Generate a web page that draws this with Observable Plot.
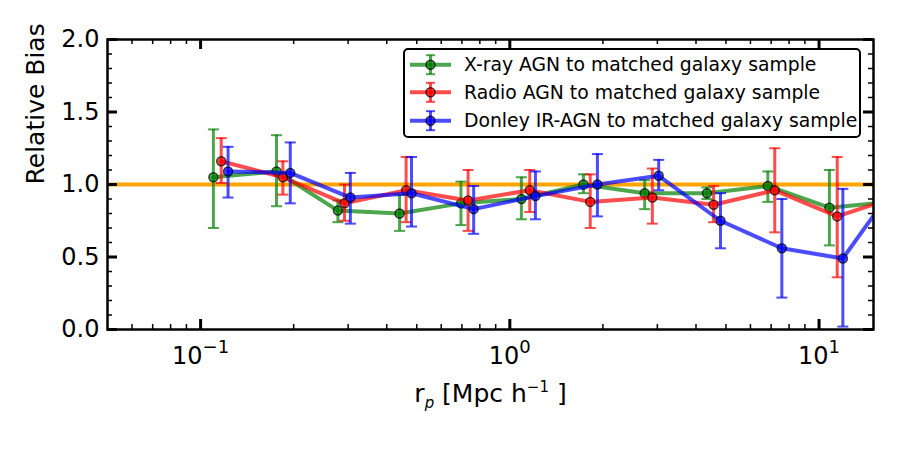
<!DOCTYPE html>
<html><head><meta charset="utf-8">
<script src="https://cdn.jsdelivr.net/npm/d3@7"></script>
<script src="https://cdn.jsdelivr.net/npm/@observablehq/plot@0.6"></script>
<style>
body{margin:0;background:#fff;}
#wrap{position:relative;width:900px;height:450px;font-family:"DejaVu Sans",sans-serif;}
#legend{position:absolute;left:403px;top:48px;}
</style></head><body><div id="wrap"></div>
<script>
// ---- data ----
const seriesNames = ["X-ray AGN to matched galaxy sample", "Radio AGN to matched galaxy sample", "Donley IR-AGN to matched galaxy sample"];
const seriesColors = ["green", "red", "blue"];

const xrayRp   = [0.110, 0.176, 0.278, 0.440, 0.695, 1.09, 1.73, 2.73, 4.34, 6.83, 10.8, 17.1];
const xrayBias = [1.05, 1.09, 0.82, 0.80, 0.87, 0.90, 1.00, 0.94, 0.94, 0.99, 0.84, 0.88];
const xrayLo   = [0.70, 0.85, 0.74, 0.68, 0.72, 0.76, 0.94, 0.83, 0.90, 0.88, 0.58, 0.70];
const xrayHi   = [1.38, 1.34, 0.89, 0.93, 1.02, 1.05, 1.07, 1.03, 0.98, 1.09, 1.10, 1.05];

const radioRp   = [0.1166, 0.1845, 0.292, 0.462, 0.733, 1.16, 1.82, 2.89, 4.56, 7.19, 11.45, 18.1];
const radioBias = [1.16, 1.05, 0.87, 0.96, 0.89, 0.96, 0.88, 0.91, 0.86, 0.96, 0.78, 0.92];
const radioLo   = [1.01, 0.93, 0.75, 0.74, 0.68, 0.81, 0.70, 0.73, 0.74, 0.67, 0.36, 0.70];
const radioHi   = [1.32, 1.16, 1.00, 1.19, 1.10, 1.10, 1.07, 1.11, 0.99, 1.25, 1.19, 1.10];

const donleyRp   = [0.1227, 0.195, 0.305, 0.481, 0.764, 1.21, 1.92, 3.03, 4.80, 7.58, 11.94, 19.0];
const donleyBias = [1.09, 1.08, 0.91, 0.94, 0.83, 0.92, 1.00, 1.06, 0.75, 0.56, 0.49, 1.09];
const donleyLo   = [0.91, 0.87, 0.73, 0.71, 0.66, 0.76, 0.78, 0.96, 0.56, 0.22, 0.02, 0.80];
const donleyHi   = [1.26, 1.29, 1.08, 1.19, 0.99, 1.09, 1.21, 1.17, 0.94, 0.90, 0.97, 1.40];

const referenceBias = [1];
const xDomain = [0.05, 15];
const yDomain = [0, 2];
const xTickValues = [0.1, 1, 10];
const xTickLabels = ["10^{-1}", "10^{0}", "10^{1}"];
const yTickValues = [0, 0.5, 1, 1.5, 2];
const xMinorTicks = [0.06, 0.07, 0.08, 0.09, 0.2, 0.3, 0.4, 0.5, 0.6, 0.7, 0.8, 0.9, 2, 3, 4, 5, 6, 7, 8, 9];
const yMinorTicks = [0.1, 0.2, 0.3, 0.4, 0.6, 0.7, 0.8, 0.9, 1.1, 1.2, 1.3, 1.4, 1.6, 1.7, 1.8, 1.9];
const xLabel = "r_{p} [Mpc h^{−1} ]";
const yLabel = "Relative Bias";

// ---- build ----
const rows = (rp, b, lo, hi) => rp.map((x, i) => ({x, y: b[i], lo: lo[i], hi: hi[i]}));
const series = [
  rows(xrayRp, xrayBias, xrayLo, xrayHi),
  rows(radioRp, radioBias, radioLo, radioHi),
  rows(donleyRp, donleyBias, donleyLo, donleyHi)
];

const cap = {draw(ctx, size) { const r = Math.sqrt(size / Math.PI); ctx.moveTo(-r, 0); ctx.lineTo(r, 0); }};

const W = 900, H = 450, mL = 107, mR = 27, mT = 39, mB = 121;
const fw = W - mL - mR, fh = H - mT - mB;
const majLen = 10, minLen = 5;

const marks = [];
marks.push(Plot.ruleY(referenceBias, {stroke: "#ffa500", strokeWidth: 4}));
series.forEach((d, k) => {
  const c = seriesColors[k];
  marks.push(Plot.ruleX(d, {x: "x", y1: "lo", y2: "hi", stroke: c, strokeOpacity: 0.7, strokeWidth: 3, clip: true}));
  marks.push(Plot.dot(d, {x: "x", y: "lo", symbol: cap, r: 5.5, fill: "none", stroke: c, strokeOpacity: 0.7, strokeWidth: 2, clip: true}));
  marks.push(Plot.dot(d, {x: "x", y: "hi", symbol: cap, r: 5.5, fill: "none", stroke: c, strokeOpacity: 0.7, strokeWidth: 2, clip: true}));
  marks.push(Plot.line(d, {x: "x", y: "y", stroke: c, strokeOpacity: 0.7, strokeWidth: 4, clip: true}));
  marks.push(Plot.dot(d, {x: "x", y: "y", r: 4.5, fill: c, fillOpacity: 0.7, stroke: "black", strokeOpacity: 0.7, strokeWidth: 1.5, clip: true}));
});
// inward ticks on all four sides
const tk = (vals, len, sw) => [
  Plot.tickX(vals, {x: d => d, insetTop: fh - len, stroke: "black", strokeWidth: sw}),
  Plot.tickX(vals, {x: d => d, insetBottom: fh - len, stroke: "black", strokeWidth: sw})
];
const tky = (vals, len, sw) => [
  Plot.tickY(vals, {y: d => d, insetRight: fw - len, stroke: "black", strokeWidth: sw}),
  Plot.tickY(vals, {y: d => d, insetLeft: fw - len, stroke: "black", strokeWidth: sw})
];
marks.push(...tk(xMinorTicks, minLen, 1.5), ...tk(xTickValues, majLen, 3));
marks.push(...tky(yMinorTicks, minLen, 1.5), ...tky(yTickValues, majLen, 3));
marks.push(Plot.frame({stroke: "black", strokeWidth: 2.5}));
marks.push(Plot.axisX(xTickValues, {tickSize: 0, tickPadding: 17, fontSize: 24, label: null,
  tickFormat: d => xTickLabels[xTickValues.indexOf(d)]}));
marks.push(Plot.axisY(yTickValues, {tickSize: 0, tickPadding: 8, fontSize: 24, label: null,
  tickFormat: d => d.toFixed(1)}));
marks.push(Plot.text([xLabel], {frameAnchor: "bottom", dy: 64.7, fontSize: 25, lineAnchor: "middle", text: d => d}));
marks.push(Plot.text([yLabel], {frameAnchor: "left", dx: -71.5, rotate: -90, fontSize: 25, lineAnchor: "middle", text: d => d}));

const chart = Plot.plot({
  width: W, height: H, marginLeft: mL, marginRight: mR, marginTop: mT, marginBottom: mB,
  x: {type: "log", domain: xDomain},
  y: {domain: yDomain},
  style: {fontFamily: "DejaVu Sans", color: "black", background: "white"},
  marks
});
document.getElementById("wrap").appendChild(chart);

// rich text: ^{..} superscripts and _{..} subscripts
function richText(el, str, o) {
  const sel = d3.select(el);
  sel.text(null);
  const re = /([\^_])\{([^}]*)\}/g;
  let last = 0, m, cur = 0;
  const add = (txt, target, size, italic) => {
    const t = sel.append("tspan").text(txt);
    const delta = target - cur;
    if (delta !== 0) t.attr("dy", delta);
    if (size) t.attr("font-size", size);
    if (italic) t.attr("font-style", "italic");
    cur = target;
  };
  while ((m = re.exec(str))) {
    if (m.index > last) add(str.slice(last, m.index), 0);
    if (m[1] === "^") add(m[2], -o.supShift, o.supSize);
    else add(m[2], o.subShift, o.subSize, true);
    last = re.lastIndex;
  }
  if (last < str.length) add(str.slice(last), 0);
}
d3.select(chart).selectAll("text").each(function() {
  const s = this.textContent;
  if (!/[\^_]\{/.test(s)) return;
  if (s === xLabel) richText(this, s, {supShift: 10, supSize: 15, subShift: 6, subSize: 15});
  else richText(this, s.replace("-", "−"), {supShift: 11, supSize: 18, subShift: 5, subSize: 16});
});

// legend
const lg = d3.select("#wrap").append("svg").attr("id", "legend").attr("width", 460).attr("height", 92)
  .attr("font-family", "DejaVu Sans").attr("font-size", 18.8);
lg.append("rect").attr("x", 1).attr("y", 1).attr("width", 456).attr("height", 88).attr("rx", 4)
  .attr("fill", "white").attr("stroke", "black").attr("stroke-width", 2);
const rowY = [16.7, 44.3, 72.7];
seriesNames.forEach((name, k) => {
  const c = seriesColors[k], y = rowY[k];
  const g = lg.append("g").attr("stroke-opacity", 0.7);
  g.append("line").attr("x1", 27.5).attr("x2", 27.5).attr("y1", y - 9.5).attr("y2", y + 9.5).attr("stroke", c).attr("stroke-width", 3);
  [y - 9.5, y + 9.5].forEach(yy => g.append("line").attr("x1", 23).attr("x2", 32).attr("y1", yy).attr("y2", yy).attr("stroke", c).attr("stroke-width", 2));
  g.append("line").attr("x1", 7).attr("x2", 48).attr("y1", y).attr("y2", y).attr("stroke", c).attr("stroke-width", 4);
  g.append("circle").attr("cx", 27.5).attr("cy", y).attr("r", 4.5).attr("fill", c).attr("fill-opacity", 0.7).attr("stroke", "black").attr("stroke-width", 1.5);
  lg.append("text").attr("x", 61).attr("y", y).attr("dy", "0.36em").text(name);
});
</script>
</body></html>
